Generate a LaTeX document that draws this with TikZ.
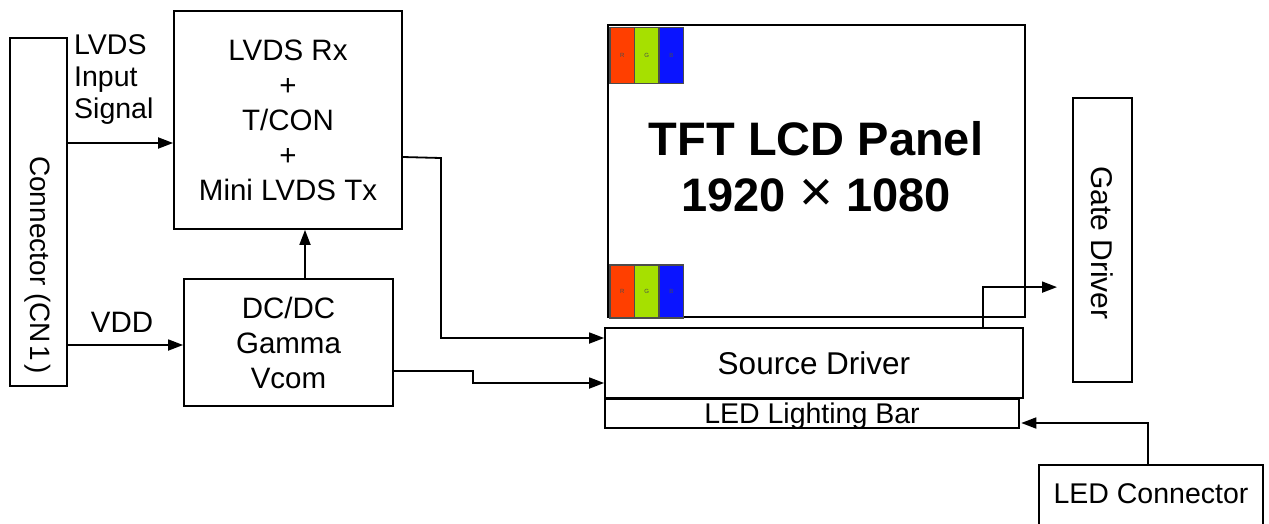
\documentclass[tikz,border=0pt]{standalone}
\usepackage{fontspec}
\setmainfont{Liberation Sans}
\usetikzlibrary{arrows.meta}
\definecolor{pxred}{HTML}{FF3F00}
\definecolor{pxgreen}{HTML}{A6E000}
\definecolor{pxblue}{HTML}{0A14FF}
\begin{document}
\begin{tikzpicture}[x=1pt,y=-1pt,
  box/.style={draw, line width=1.8pt, inner sep=0pt},
  lbl/.style={inner sep=0pt, align=center, font=\fontsize{29.5}{35}\selectfont},
  arr/.style={line width=1.8pt, -{Triangle[length=15pt,width=11pt]}},
  pix/.style={draw=black!70, line width=1.2pt},
  pixlbl/.style={inner sep=0pt, font=\fontsize{6}{6}\selectfont, text=black!70}]
\useasboundingbox (0,0) rectangle (1269,523);

% boxes
\node[box, minimum width=57pt, minimum height=348pt] (cn) at (38.5,212) {};
\node[lbl, font=\fontsize{28}{35}\selectfont, rotate=-90] (cntext) at (38,265) {Connector (CN\hspace{3pt}1\hspace{3pt})};

\node[box, lbl, minimum width=228pt, minimum height=218pt] (lvds) at (288,120)
  {LVDS Rx\\+\\T/CON\\+\\Mini LVDS Tx};
\node[box, lbl, minimum width=209pt, minimum height=127pt] (dc) at (288.5,342.5)
  {DC/DC\\Gamma\\Vcom};

\node[lbl, anchor=west, align=left, font=\fontsize{28.5}{32}\selectfont] (insig) at (74,79.5)
  {LVDS\\Input\\Signal};
\node[lbl] (vdd) at (122,322) {VDD};

% panel
\node[box, minimum width=417pt, minimum height=292pt] (panel) at (816.5,171) {};
\node[inner sep=0pt, align=center, font=\fontsize{47}{56}\selectfont\bfseries] (ptext) at (816,167)
  {TFT LCD Panel\\1920 {\mdseries\fontsize{58}{56}\selectfont ×} 1080};

% pixel blocks top
\node[pix, fill=pxred, minimum width=24.5pt, minimum height=56pt, inner sep=0pt] (r1) at (622.25,55.5) {};
\node[pix, fill=pxgreen, minimum width=24.5pt, minimum height=56pt, inner sep=0pt] (g1) at (646.75,55.5) {};
\node[pix, fill=pxblue, minimum width=24.5pt, minimum height=56pt, inner sep=0pt] (b1) at (671.25,55.5) {};
\node[pixlbl] (r1t) at (r1) {R};
\node[pixlbl] (g1t) at (g1) {G};
\node[pixlbl] (b1t) at (b1) {B};
% pixel blocks bottom
\node[pix, fill=pxred, minimum width=24.5pt, minimum height=53pt, inner sep=0pt] (r2) at (622.25,291.5) {};
\node[pix, fill=pxgreen, minimum width=24.5pt, minimum height=53pt, inner sep=0pt] (g2) at (646.75,291.5) {};
\node[pix, fill=pxblue, minimum width=24.5pt, minimum height=53pt, inner sep=0pt] (b2) at (671.25,291.5) {};
\node[pixlbl] (r2t) at (r2) {R};
\node[pixlbl] (g2t) at (g2) {G};
\node[pixlbl] (b2t) at (b2) {B};

\node[box, lbl, font=\fontsize{31.5}{35}\selectfont, minimum width=418pt, minimum height=70pt] (src) at (814,363) {Source Driver};
\node[box, line width=2.6pt, minimum width=414pt, minimum height=29pt] (led) at (812,413.5) {};
\node[lbl, font=\fontsize{28.5}{35}\selectfont] (ledtext) at (812,416) {LED Lighting Bar};

\node[box, minimum width=59pt, minimum height=284pt] (gate) at (1102.5,240) {};
\node[lbl, rotate=-90, font=\fontsize{30}{35}\selectfont] (gatetext) at (1102,243) {Gate Driver};

\node[box, minimum width=224pt, minimum height=65pt] (ledc) at (1151,497.5) {};
\node[lbl, font=\fontsize{28.5}{35}\selectfont] (ledctext) at (1151,494) {LED Connector};

% connectors
\coordinate (lvdsin) at (67,143);
\draw[arr] (lvdsin) -- (lvdsin -| lvds.west);
\coordinate (vddin) at (67,345);
\draw[arr] (vddin) -- (vddin -| dc.west);
\coordinate (dcup) at (305,279);
\draw[arr] (dcup) -- (dcup |- lvds.south);

\draw[arr] ([yshift=-37pt]lvds.east) -- ++(38,1) |- ([yshift=25pt]src.west);
\draw[arr] ([yshift=-28.5pt]dc.east) -- ++(79,0) |- ([yshift=-20pt]src.west);
\draw[arr] ([xshift=169pt]src.north) -- ++(0,-40) -- ++(74,0);
\draw[arr] ([xshift=-3pt]ledc.north) |- ([yshift=-9.5pt,xshift=1pt]led.east);
\end{tikzpicture}
\end{document}
